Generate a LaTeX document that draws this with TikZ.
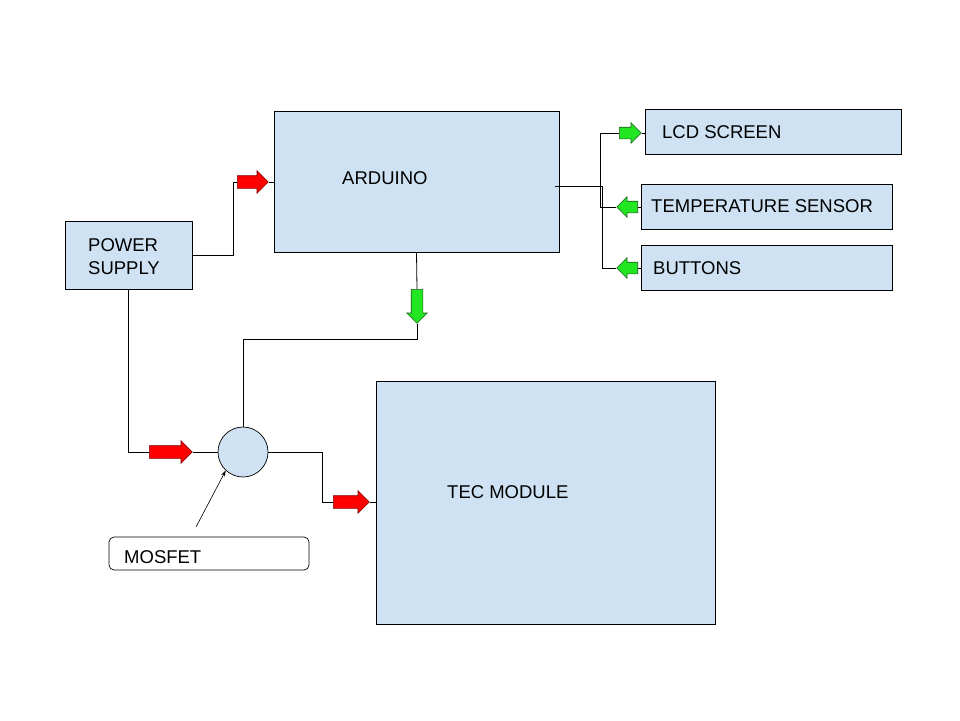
\documentclass[tikz,border=0pt]{standalone}
\usepackage{fontspec}
\setmainfont{Liberation Sans}
\usetikzlibrary{shapes.arrows,arrows.meta,calc}
\definecolor{boxblue}{HTML}{CFE2F3}
\definecolor{redfill}{HTML}{FF0000}
\definecolor{redline}{HTML}{7F0000}
\definecolor{greenfill}{HTML}{22E622}
\definecolor{greenline}{HTML}{1E5E1E}
\tikzset{
  blk/.style={draw=black, line width=0.7pt, fill=boxblue, inner sep=0pt},
  txt/.style={anchor=west, inner sep=0pt, font=\fontsize{18.5}{23}\selectfont},
  conn/.style={draw=black, line width=0.8pt},
  redarr/.style={single arrow, draw=redline, fill=redfill, line width=0.6pt, inner xsep=0pt, inner ysep=6pt,
    minimum width=22pt, single arrow head extend=5pt, anchor=tail},
  grnarr/.style={single arrow, draw=greenline, fill=greenfill, line width=0.6pt, inner xsep=0pt, inner ysep=5.5pt,
    minimum width=20pt, single arrow head extend=4.5pt, anchor=tail}
}
\begin{document}
\begin{tikzpicture}[x=1pt,y=-1pt]
\useasboundingbox[fill=white] (0,0) rectangle (960,720);
% boxes
\node[blk, minimum width=127pt, minimum height=68pt] (ps) at (128.5,255) {};
\node[blk, minimum width=285pt, minimum height=141pt] (ard) at (416.5,181.5) {};
\node[blk, minimum width=256pt, minimum height=45pt] (lcd) at (773,131.5) {};
\node[blk, minimum width=251pt, minimum height=45pt] (temp) at (766.5,206.5) {};
\node[blk, minimum width=251pt, minimum height=45pt] (btn) at (766.5,267.5) {};
\node[blk, circle, minimum size=50pt] (mos) at (243,452) {};
\node[draw=black, line width=0.7pt, fill=white, rounded corners=5pt, minimum width=200pt, minimum height=33pt] (mlab) at (209,553.5) {};
\node[blk, minimum width=339pt, minimum height=243pt] (tec) at (545.5,502.5) {};
% texts
\node[txt, align=left] (tps) at (88,256.5) {POWER\\SUPPLY};
\node[txt] (tard) at (342,178) {ARDUINO};
\node[txt] (tlcd) at (662,132) {LCD SCREEN};
\node[txt] (ttemp) at (651,206) {TEMPERATURE SENSOR};
\node[txt] (tbtn) at (653,268) {BUTTONS};
\node[txt] (tmlab) at (124,557) {MOSFET};
\node[txt] (ttec) at (447,492) {TEC MODULE};
% block arrows
\node[redarr, minimum height=31pt] (a1) at (237,182) {};
\node[redarr, minimum height=43pt] (r2) at (149,452) {};
\node[redarr, minimum height=36pt] (r3) at (333,502) {};
\node[grnarr, minimum height=22pt] (l1) at (619,133) {};
\node[grnarr, minimum height=21pt, shape border rotate=180] (t1) at (638,207) {};
\node[grnarr, minimum height=21pt, shape border rotate=180] (b1) at (638,268) {};
\node[grnarr, minimum height=34pt, shape border rotate=270, inner xsep=5.5pt, inner ysep=0pt] (d1) at (417,289) {};
% connectors
\draw[conn] (ps.east) -- ++(41,0) |- (a1.tail);
\draw[conn] (a1.tip) -- (ard.west |- a1.tip);
\draw[conn] ($(ard.east)+(-4,4.5)$) -- (602,186) |- (b1.tip);
\draw[conn] (b1.tail) -- (btn.west |- b1.tail);
\draw[conn] (l1.tip) -- (lcd.west |- l1.tip);
\draw[conn] (l1.tail) -| (600,207) -- (t1.tip);
\draw[conn] (t1.tail) -- (temp.west |- t1.tail);
\draw[conn] (ard.south) -- (d1.tail);
\draw[conn] (d1.tip) -- ++(0,16) -| (mos.north);
\draw[conn] (ps.south) |- (r2.tail);
\draw[conn] (r2.tip) -- (mos.west);
\draw[conn] (mos.east) -- ++(54,0) |- (r3.tail);
\draw[conn] (r3.tip) -- (tec.west |- r3.tip);
\coordinate (mtail) at (196,527);
\draw[line width=0.6pt, -{Stealth[length=6pt,width=4pt]}] (mtail) -- (mos.227);
\end{tikzpicture}
\end{document}
